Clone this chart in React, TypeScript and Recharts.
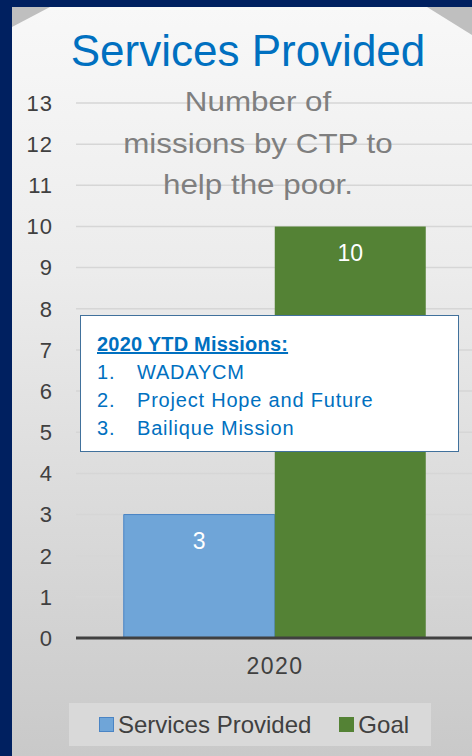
import React from 'react';
import { BarChart, Bar, XAxis, YAxis, CartesianGrid, LabelList } from 'recharts';

const categories = ['2020'];
const servicesProvided = [3];
const goal = [10];
const yTicks = [0, 1, 2, 3, 4, 5, 6, 7, 8, 9, 10, 11, 12, 13];
const seriesNames = ['Services Provided', 'Goal'];
const seriesColors = ['#6FA5D8', '#548235'];
const seriesStrokes = ['#4A84C4', '#548235'];
const titleText = 'Services Provided';
const subtitleLines = ['Number of', 'missions by CTP to', 'help the poor.'];
const boxHeading = '2020 YTD Missions:';
const missions = ['WADAYCM', 'Project Hope and Future', 'Bailique Mission'];

const data = categories.map((c, i) => ({
  category: c,
  services: servicesProvided[i],
  goal: goal[i],
}));

const FONT = '"Liberation Sans", Arial, sans-serif';

export default function App() {
  return (
    <div style={{ position: 'absolute', left: 0, top: 0, width: 472, height: 756, overflow: 'hidden', background: '#002060', fontFamily: FONT }}>
      <div style={{ position: 'absolute', left: 12, top: 7, width: 460, height: 749, background: '#bfbfbf' }} />
      <div
        style={{
          position: 'absolute',
          left: 12,
          top: 7,
          width: 460,
          height: 749,
          background: 'linear-gradient(180deg, #f8f8f8 0%, #ececec 35%, #d9d9d9 70%, #c9c9c9 100%)',
          clipPath: 'polygon(38px 0, 415px 0, 460px 28px, 460px 749px, 0 749px, 0 20px)',
        }}
      />
      <div style={{ position: 'absolute', left: 0, top: 0 }}>
        <BarChart
          width={472}
          height={756}
          data={data}
          margin={{ top: 103, right: -2, left: 0, bottom: 78 }}
          barCategoryGap="12%"
          barGap={0}
        >
          <CartesianGrid horizontal vertical={false} stroke="#d6d6d6" strokeWidth={1.5} />
          <XAxis
            dataKey="category"
            height={40}
            axisLine={{ stroke: '#404040', strokeWidth: 3 }}
            tickLine={false}
            tickMargin={14}
            tick={{ fill: '#404040', fontSize: 23, fontFamily: FONT, letterSpacing: 1.5 }}
          />
          <YAxis
            width={76}
            domain={[0, 13]}
            ticks={yTicks}
            interval={0}
            axisLine={false}
            tickLine={false}
            tickMargin={17}
            tick={{ fill: '#404040', fontSize: 22, fontFamily: FONT, letterSpacing: 1 }}
          />
          <Bar dataKey="services" name={seriesNames[0]} fill={seriesColors[0]} stroke={seriesStrokes[0]} strokeWidth={1} isAnimationActive={false}>
            <LabelList dataKey="services" position="insideTop" offset={18} fill="#ffffff" fontSize={23} fontFamily={FONT} />
          </Bar>
          <Bar dataKey="goal" name={seriesNames[1]} fill={seriesColors[1]} isAnimationActive={false}>
            <LabelList dataKey="goal" position="insideTop" offset={18} fill="#ffffff" fontSize={23} fontFamily={FONT} />
          </Bar>
        </BarChart>
      </div>

      <div style={{ position: 'absolute', left: 0, width: 496, top: 24, textAlign: 'center', color: '#0070C0', fontSize: 44, lineHeight: '54px', whiteSpace: 'nowrap' }}>
        {titleText}
      </div>

      <div style={{ position: 'absolute', left: 0, width: 516, top: 81, textAlign: 'center', color: '#7F7F7F', fontSize: 28, lineHeight: '41.5px' }}>
        {subtitleLines.map((l, i) => (
          <div key={i} style={{ whiteSpace: 'nowrap', transform: 'scaleX(1.12)' }}>{l}</div>
        ))}
      </div>

      <div
        style={{
          position: 'absolute',
          left: 80,
          top: 315,
          width: 377,
          height: 135,
          background: '#ffffff',
          border: '1.5px solid #41719C',
          color: '#0070C0',
          boxSizing: 'content-box',
        }}
      >
        <div style={{ position: 'absolute', left: 16, top: 14, fontSize: 20, fontWeight: 700, lineHeight: '28px', textDecoration: 'underline', whiteSpace: 'nowrap', letterSpacing: 0.2 }}>
          {boxHeading}
        </div>
        {missions.map((m, i) => (
          <div key={i} style={{ position: 'absolute', left: 16, top: 42 + i * 28, fontSize: 20, lineHeight: '28px', whiteSpace: 'nowrap', letterSpacing: 0.8 }}>
            <span style={{ display: 'inline-block', width: 40 }}>{i + 1}.</span>
            {m}
          </div>
        ))}
      </div>

      <div
        style={{
          position: 'absolute',
          left: 69,
          top: 703,
          width: 362,
          height: 43,
          boxSizing: 'border-box',
          paddingLeft: 8,
          background: '#d9d9d9',
          display: 'flex',
          alignItems: 'center',
          justifyContent: 'center',
          color: '#404040',
          fontSize: 24,
        }}
      >
        {seriesNames.map((n, i) => (
          <div key={i} style={{ display: 'flex', alignItems: 'center', marginLeft: i === 0 ? 0 : 28 }}>
            <span
              style={{
                display: 'inline-block',
                width: 13,
                height: 13,
                background: seriesColors[i],
                border: `1px solid ${seriesStrokes[i]}`,
                marginRight: 4,
              }}
            />
            <span style={{ whiteSpace: 'nowrap' }}>{n}</span>
          </div>
        ))}
      </div>
    </div>
  );
}
